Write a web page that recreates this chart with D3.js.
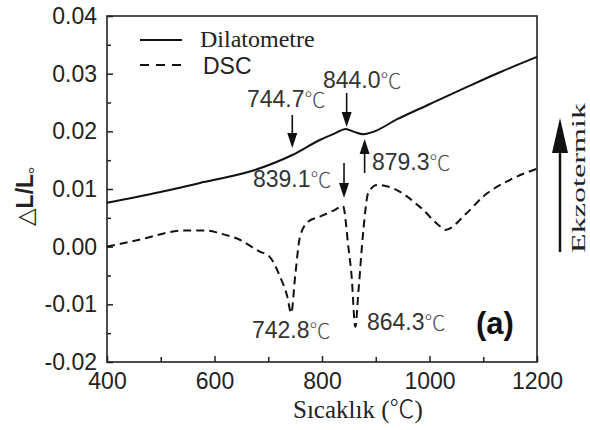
<!DOCTYPE html>
<html>
<head>
<meta charset="utf-8">
<script src="https://cdn.jsdelivr.net/npm/d3@7"></script>
<style>
  body { margin: 0; background: #fff; }
  svg { display: block; }
</style>
</head>
<body>
<svg width="590" height="430"></svg>
<script>
// temperature (°C) and dL/L0 for the dilatometer curve
const dilT = [400, 490, 580, 675, 744.7, 796, 825, 844, 860, 877, 895, 940, 1000, 1070, 1130, 1200];
const dilV = [0.0076, 0.0093, 0.0112, 0.0133, 0.0159, 0.0185, 0.0197, 0.0204, 0.0199, 0.0195, 0.0199, 0.0221, 0.0247, 0.0277, 0.0302, 0.0329];

// DSC curve (scaled onto the same axis)
const dscT = [400, 460, 543, 586, 610, 647, 685, 700, 722, 735, 742.8, 750, 759, 774, 796, 820, 839.1, 849, 855, 862, 868, 877, 886, 902, 933, 982, 1020, 1029, 1069, 1100, 1150, 1200];
const dscV = [0, 0.0012, 0.0028, 0.0028, 0.0023, 0.0012, -0.0009, -0.0015, -0.0052, -0.0085, -0.0115, -0.0052, 0.0017, 0.0043, 0.0052, 0.0062, 0.0070, 0.0, -0.0050, -0.0139, -0.0075, 0.0029, 0.0093, 0.0107, 0.0101, 0.0069, 0.0035, 0.0029, 0.0058, 0.0087, 0.0116, 0.0135];

const xTicks = [400, 600, 800, 1000, 1200];
const xMinor = [500, 700, 900, 1100];
const yTicks = [-0.02, -0.01, 0.00, 0.01, 0.02, 0.03, 0.04];
const yMinor = [-0.015, -0.005, 0.005, 0.015, 0.025, 0.035];

// annotated temperatures
const notes = [
  { label: "744.7", t: 744.7 },
  { label: "844.0", t: 844.0 },
  { label: "879.3", t: 879.3 },
  { label: "839.1", t: 839.1 },
  { label: "742.8", t: 742.8 },
  { label: "864.3", t: 864.3 }
];

const svg = d3.select("svg");
const mLeft = 107, mRight = 537, mTop = 16, mBottom = 362;

const x = d3.scaleLinear().domain([400, 1200]).range([mLeft, mRight]);
const y = d3.scaleLinear().domain([-0.02, 0.04]).range([mBottom, mTop]);

const tickFont = "'Liberation Sans', Arial, sans-serif";
const serif = "'Liberation Serif', 'Times New Roman', serif";
const cjk = "'Noto Sans CJK SC', sans-serif";

// frame
svg.append("rect")
  .attr("x", mLeft).attr("y", mTop)
  .attr("width", mRight - mLeft).attr("height", mBottom - mTop)
  .attr("fill", "none").attr("stroke", "#222").attr("stroke-width", 1.6);

// x axis
const xAxis = svg.append("g")
  .attr("transform", "translate(0," + mBottom + ")")
  .call(d3.axisBottom(x).tickValues(xTicks).tickSize(-6).tickPadding(10).tickFormat(d3.format("d")));
svg.append("g")
  .attr("transform", "translate(0," + mBottom + ")")
  .call(d3.axisBottom(x).tickValues(xMinor).tickSize(-5).tickFormat(""));

// y axis
const yAxis = svg.append("g")
  .attr("transform", "translate(" + mLeft + ",0)")
  .call(d3.axisLeft(y).tickValues(yTicks).tickSize(-6).tickPadding(10).tickFormat(d => d.toFixed(2)));
svg.append("g")
  .attr("transform", "translate(" + mLeft + ",0)")
  .call(d3.axisLeft(y).tickValues(yMinor).tickSize(-4).tickFormat(""));

svg.selectAll(".domain").remove();
svg.selectAll(".tick line").attr("stroke", "#222").attr("stroke-width", 1.5);
svg.selectAll(".tick text")
  .attr("font-family", tickFont).attr("font-size", 23).attr("fill", "#222");
xAxis.selectAll(".tick text").attr("y", 11);
yAxis.selectAll(".tick text").attr("x", -10);

// curves
const line = d3.line().curve(d3.curveMonotoneX);
const dilPts = dilT.map((t, i) => [x(t), y(dilV[i])]);
const dscPts = dscT.map((t, i) => [x(t), y(dscV[i])]);

svg.append("path")
  .attr("d", line(dilPts))
  .attr("fill", "none").attr("stroke", "#111").attr("stroke-width", 2);

svg.append("path")
  .attr("d", line(dscPts))
  .attr("fill", "none").attr("stroke", "#111").attr("stroke-width", 2)
  .attr("stroke-dasharray", "8,5");

// legend
svg.append("line").attr("x1", 140).attr("x2", 182).attr("y1", 40).attr("y2", 40)
  .attr("stroke", "#111").attr("stroke-width", 2);
svg.append("text").attr("x", 200).attr("y", 47).text("Dilatometre")
  .attr("font-family", serif).attr("font-size", 24).attr("fill", "#222");
svg.append("line").attr("x1", 140).attr("x2", 182).attr("y1", 65).attr("y2", 65)
  .attr("stroke", "#111").attr("stroke-width", 2).attr("stroke-dasharray", "9,7");
svg.append("text").attr("x", 203).attr("y", 74).text("DSC")
  .attr("font-family", tickFont).attr("font-size", 23).attr("fill", "#222");

// annotation arrows
function arrow(xp, y1, y2) {
  const dir = y2 > y1 ? 1 : -1;
  const headLen = 15, headW = 5;
  svg.append("line")
    .attr("x1", xp).attr("x2", xp).attr("y1", y1).attr("y2", y2 - dir * headLen)
    .attr("stroke", "#111").attr("stroke-width", 1.6);
  svg.append("path")
    .attr("d", `M${xp - headW},${y2 - dir * headLen} L${xp + headW},${y2 - dir * headLen} L${xp},${y2} Z`)
    .attr("fill", "#111");
}

function label(txt, xp, yp) {
  const t = svg.append("text").attr("x", xp).attr("y", yp)
    .attr("font-family", tickFont).attr("font-size", 23).attr("fill", "#333");
  t.append("tspan").text(txt);
  t.append("tspan").text("℃")
    .attr("font-family", cjk).attr("font-weight", 300)
    .attr("font-size", 21).attr("fill", "#555");
}

const nById = Object.fromEntries(notes.map(n => [n.label, n]));
label(nById["744.7"].label, 247, 107);
arrow(x(nById["744.7"].t), 115, 148);
label(nById["844.0"].label, 323, 88);
arrow(x(nById["844.0"].t) + 1, 93, 127);
label(nById["879.3"].label, 372, 170);
arrow(x(nById["879.3"].t), 173, 139);
label(nById["839.1"].label, 253, 187);
arrow(x(nById["839.1"].t) + 1, 163, 198);
label(nById["742.8"].label, 252, 338);
label(nById["864.3"].label, 367, 330);

svg.append("text").attr("x", 476).attr("y", 334).text("(a)")
  .attr("font-family", tickFont).attr("font-weight", "bold")
  .attr("font-size", 31).attr("fill", "#111");

// axis titles
const xl = svg.append("text").attr("x", 293).attr("y", 418)
  .attr("font-family", serif).attr("font-size", 25).attr("fill", "#222");
xl.append("tspan").text("Sıcaklık (");
xl.append("tspan").text("℃").attr("font-family", cjk).attr("font-weight", 300);
xl.append("tspan").text(")");

const yl = svg.append("text")
  .attr("transform", "translate(33,191) rotate(-90)")
  .attr("text-anchor", "middle")
  .attr("font-family", tickFont).attr("font-size", 23).attr("fill", "#222");
yl.append("tspan").text("△").attr("font-family", "'DejaVu Sans', sans-serif");
yl.append("tspan").text("L/L").attr("font-weight", "bold");
yl.append("tspan").text("。").attr("font-family", cjk).attr("font-size", 18);

// exothermic arrow on the right
svg.append("line").attr("x1", 560).attr("x2", 560).attr("y1", 252).attr("y2", 150)
  .attr("stroke", "#111").attr("stroke-width", 2.5);
svg.append("path").attr("d", "M552,153 L568,153 L560,118 Z").attr("fill", "#111");
svg.append("text")
  .attr("transform", "translate(585,253) rotate(-90)")
  .attr("font-family", serif).attr("font-size", 19).attr("fill", "#222")
  .attr("textLength", 150).attr("lengthAdjust", "spacingAndGlyphs")
  .text("Ekzotermik");
</script>
</body>
</html>
